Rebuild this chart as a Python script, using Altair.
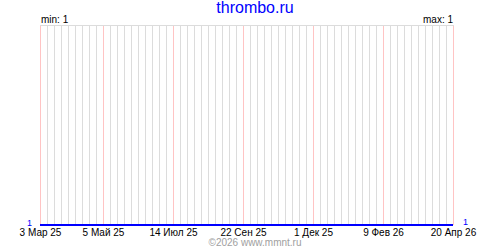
import altair as alt
import pandas as pd

# ---- data ----
title_text = "thrombo.ru"
footer_text = "\u00a92026 www.mmnt.ru"
start_date = "2025-03-03"
end_date = "2026-04-20"
series_dates = ["2025-03-03", "2026-04-20"]
series_values = [1, 1]
min_value = 1
max_value = 1
label_dates = ["2025-03-03", "2025-05-05", "2025-07-14", "2025-09-22",
               "2025-12-01", "2026-02-09", "2026-04-20"]
label_texts = ["3 Мар 25", "5 Май 25", "14 Июл 25", "22 Сен 25",
               "1 Дек 25", "9 Фев 26", "20 Апр 26"]

week_dates = [d.strftime("%Y-%m-%d") for d in pd.date_range(start_date, end_date, freq="7D")]

W, H = 413, 200
FONT = "Liberation Sans"

xscale = alt.Scale(type="utc", domain=[start_date, end_date], range=[0, W])
yscale = alt.Scale(domain=[1, 2], range=[H, 0])

weeks_df = pd.DataFrame({"date": week_dates})
labels_df = pd.DataFrame({"date": label_dates, "label": label_texts})
series_df = pd.DataFrame({"date": series_dates, "value": series_values})

week_rules = alt.Chart(weeks_df).mark_rule(color="#dcdcdc", strokeWidth=1, xOffset=0.5).encode(
    x=alt.X("date:T", scale=xscale, axis=None),
    y=alt.value(0), y2=alt.value(H),
)

pink_rules = alt.Chart(labels_df).mark_rule(color="#ffc4c4", strokeWidth=1, xOffset=0.5).encode(
    x=alt.X("date:T", scale=xscale, axis=None),
    y=alt.value(0), y2=alt.value(H),
)

top_rule = alt.Chart(series_df).mark_rule(color="#dcdcdc", strokeWidth=1, yOffset=0.5).encode(
    x=alt.value(0), x2=alt.value(W + 1), y=alt.value(0),
)

line = alt.Chart(series_df).mark_line(color="#0000ff", strokeWidth=2, clip=False).encode(
    x=alt.X("date:T", scale=xscale, axis=None),
    y=alt.Y("value:Q", scale=yscale, axis=None),
)

xlabels = alt.Chart(labels_df).mark_text(font=FONT, fontSize=10, color="#000000",
                                         align="center", baseline="alphabetic", xOffset=0.5).encode(
    x=alt.X("date:T", scale=xscale, axis=None),
    y=alt.value(211),
    text="label:N",
)

def txt(s, x, y, size, color, align="left"):
    return alt.Chart(pd.DataFrame({"t": [s]})).mark_text(
        font=FONT, fontSize=size, color=color, align=align, baseline="alphabetic"
    ).encode(x=alt.value(x), y=alt.value(y), text="t:N")

title = txt(title_text, 215, -12, 16, "#0000ff", "center")
min_t = txt(f"min: {min_value}", 1, -2, 10, "#000000", "left")
max_t = txt(f"max: {max_value}", W, -2, 10, "#000000", "right")
left_one = txt(str(series_values[0]), -8, 200.5, 9, "#0000ff", "right")
right_one = txt(str(series_values[-1]), W + 10, 200, 9, "#0000ff", "left")
footer = txt(footer_text, 215, 221, 10, "#a0a0a0", "center")

chart = alt.layer(
    week_rules, pink_rules, top_rule, line, xlabels,
    title, min_t, max_t, left_one, right_one, footer
).properties(
    width=W, height=H,
    padding={"left": 40, "top": 25, "right": 47, "bottom": 25},
    autosize=alt.AutoSizeParams(type="none"),
    background="white",
).configure_view(stroke=None)

chart.save("out.html", embed_options={"renderer": "svg", "actions": False})
